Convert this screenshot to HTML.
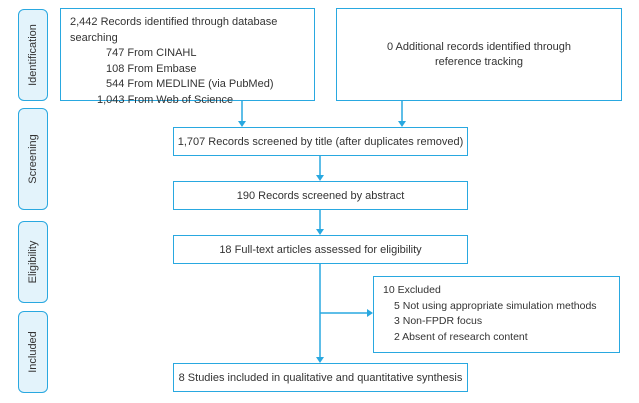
<!DOCTYPE html><html><head><style>
body{margin:0;width:639px;height:403px;background:#fff;position:relative;font-family:"Liberation Sans",sans-serif;font-size:11px;color:#333;overflow:hidden}
.b{position:absolute;border:1.5px solid #29a8e0;box-sizing:border-box;background:#fff}
.c{display:flex;align-items:center;justify-content:center;text-align:center}
.s{position:absolute;left:18px;width:30px;border:1.5px solid #29a8e0;border-radius:6px;background:#e3f3fb;box-sizing:border-box}
.s span{position:absolute;left:50%;top:50%;transform:translate(-50%,-50%) rotate(-90deg);white-space:nowrap;font-size:11px}
</style></head><body>
<div class="s" style="top:9px;height:92px"><span>Identification</span></div>
<div class="s" style="top:108px;height:102px"><span>Screening</span></div>
<div class="s" style="top:221px;height:82px"><span>Eligibility</span></div>
<div class="s" style="top:311px;height:82px"><span>Included</span></div>
<div class="b" style="left:60px;top:8px;width:255px;height:93px;padding:6px 0 0 9px;line-height:15.5px">2,442 Records identified through database searching<br><span style="padding-left:36px">747 From CINAHL</span><br><span style="padding-left:36px">108 From Embase</span><br><span style="padding-left:36px">544 From MEDLINE (via PubMed)</span><br><span style="padding-left:27px">1,043 From Web of Science</span></div>
<div class="b c" style="left:336px;top:8px;width:286px;height:93px;line-height:15px">0 Additional records identified through<br>reference tracking</div>
<div class="b c" style="left:173px;top:127px;width:295px;height:29px">1,707 Records screened by title (after duplicates removed)</div>
<div class="b c" style="left:173px;top:181px;width:295px;height:29px">190 Records screened by abstract</div>
<div class="b c" style="left:173px;top:235px;width:295px;height:29px">18 Full-text articles assessed for eligibility</div>
<div class="b" style="left:373px;top:276px;width:247px;height:77px;padding:6px 0 0 9px;line-height:15.5px;font-size:10.5px">10 Excluded<br><span style="padding-left:11px">5 Not using appropriate simulation methods</span><br><span style="padding-left:11px">3 Non-FPDR focus</span><br><span style="padding-left:11px">2 Absent of research content</span></div>
<div class="b c" style="left:173px;top:363px;width:295px;height:29px">8 Studies included in qualitative and quantitative synthesis</div>
<svg width="639" height="403" style="position:absolute;left:0;top:0" fill="#29a8e0" stroke="#29a8e0" stroke-width="1.5">
<line x1="242" y1="101" x2="242" y2="123"/><polygon points="238,121 246,121 242,127" stroke="none"/>
<line x1="402" y1="101" x2="402" y2="123"/><polygon points="398,121 406,121 402,127" stroke="none"/>
<line x1="320" y1="156" x2="320" y2="177"/><polygon points="316,175 324,175 320,181" stroke="none"/>
<line x1="320" y1="210" x2="320" y2="231"/><polygon points="316,229 324,229 320,235" stroke="none"/>
<line x1="320" y1="264" x2="320" y2="359"/><polygon points="316,357 324,357 320,363" stroke="none"/>
<line x1="320" y1="313" x2="369" y2="313"/><polygon points="367,309 367,317 373,313" stroke="none"/>
</svg>
</body></html>
